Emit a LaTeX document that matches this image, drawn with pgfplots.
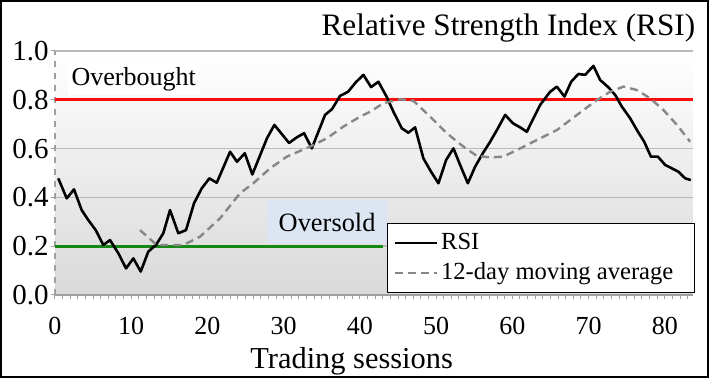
\documentclass[border=0pt]{standalone}
\usepackage{fontspec}
\setmainfont{Liberation Serif}
\usepackage{pgfplots}
\pgfplotsset{compat=1.18}
\definecolor{obox}{RGB}{220,230,243}
\definecolor{obred}{RGB}{255,10,10}
\definecolor{osgreen}{RGB}{20,135,20}
\definecolor{magray}{RGB}{135,135,135}
\begin{document}
\begin{tikzpicture}
\useasboundingbox (-27.5pt,-41.5pt) rectangle (327pt,147.5pt);
\begin{axis}[
  at={(0,0)}, anchor=south west,
  scale only axis, width=319pt, height=122pt,
  xmin=0, xmax=83.7, ymin=0, ymax=1,
  axis x line*=bottom, axis y line*=left,
  x axis line style={gray!75, line width=0.8pt},
  y axis line style={gray!75, dashed, line width=0.6pt},
  xtick={0,10,...,80}, minor xtick={0,1,...,83},
  ytick={0,0.2,0.4,0.6,0.8,1.0},
  tick align=outside, major tick length=2pt, minor tick length=2pt,
  tick style={gray!75, line width=0.5pt},
  ymajorgrids, grid style={gray!55, line width=0.7pt},
  axis background/.style={shade, top color=white, bottom color=gray!30},
  /pgf/number format/assume math mode=true,
  yticklabel style={font=\fontsize{14.5}{14.5}\selectfont, inner xsep=1pt, /pgf/number format/.cd, fixed, fixed zerofill, precision=1},
  xticklabel style={font=\fontsize{13}{13}\selectfont, yshift=-5.5pt},
  xlabel={Trading sessions},
  xlabel style={font=\fontsize{15.2}{16}\selectfont, at={(axis description cs:0.465,0)}, anchor=base, yshift=-37pt},
  title={Relative Strength Index (RSI)},
  title style={font=\fontsize{15.6}{17}\selectfont, at={(axis description cs:1.004,1)}, anchor=base east, inner xsep=0pt, yshift=1.5pt},
  legend style={at={(1,0)}, anchor=south east, xshift=1pt, yshift=0.8pt, draw=black, line width=0.6pt, fill=white,
    font=\fontsize{12.3}{13}\selectfont, inner xsep=3pt, inner ysep=3.5pt, row sep=2pt,
    nodes={inner xsep=1.5pt, inner ysep=1.5pt}},
  legend cell align=left,
  legend image code/.code={\draw[#1] (0pt,0pt) -- (21pt,0pt);},
]
\fill[obox] (axis cs:27.8,0.213) rectangle (axis cs:43.5,0.389);
\node[anchor=base west, font=\fontsize{13.2}{14}\selectfont, inner sep=0pt] at (axis cs:29.3,0.259) {Oversold};
\node[anchor=base west, font=\fontsize{13}{14}\selectfont, fill=white, inner sep=2pt] at (axis cs:1.6,0.857) {Overbought};
\addplot[obred, line width=1.5pt, forget plot] coordinates {(0,0.8) (83.7,0.8)};
\addplot[osgreen, line width=1.5pt, forget plot] coordinates {(0,0.2) (43,0.2)};
\addplot[black, line width=1.3pt, line join=round] coordinates {
(0.43,0.478)(1.54,0.396)(2.49,0.433)(3.50,0.348)(4.37,0.307)(5.34,0.266)(6.34,0.205)(7.22,0.225)(8.31,0.171)(9.32,0.109)(10.28,0.150)(11.25,0.096)(12.24,0.178)(13.25,0.205)(14.21,0.253)(15.09,0.348)(16.18,0.253)(17.19,0.266)(18.24,0.376)(19.25,0.437)(20.25,0.478)(21.22,0.460)(22.97,0.587)(23.88,0.546)(24.90,0.581)(25.89,0.494)(27.82,0.643)(28.78,0.697)(30.71,0.623)(31.72,0.646)(32.68,0.663)(33.69,0.601)(35.43,0.738)(36.35,0.762)(37.40,0.816)(38.45,0.833)(39.50,0.873)(40.46,0.902)(41.47,0.852)(42.43,0.874)(43.5,0.813)(44.40,0.751)(45.50,0.683)(46.36,0.665)(47.24,0.687)(48.33,0.560)(49.34,0.505)(50.30,0.458)(51.31,0.553)(52.27,0.601)(53.24,0.526)(54.16,0.458)(55.12,0.526)(56.13,0.581)(57.09,0.628)(58.10,0.683)(59.06,0.738)(60.07,0.704)(61.02,0.687)(61.90,0.669)(62.77,0.724)(63.65,0.779)(64.96,0.833)(65.84,0.854)(66.84,0.813)(67.72,0.874)(68.67,0.906)(69.55,0.902)(70.64,0.939)(71.52,0.881)(72.61,0.851)(73.49,0.820)(74.37,0.772)(75.46,0.724)(76.34,0.676)(77.30,0.628)(78.18,0.567)(79.09,0.567)(80.05,0.533)(80.93,0.519)(81.80,0.505)(82.68,0.478)(83.42,0.471)
};
\addlegendentry{RSI}
\addplot[magray, line width=1.2pt, dash pattern=on 4pt off 2.5pt] coordinates {
(11.15,0.266)(13.35,0.205)(15.1,0.205)(16.84,0.205)(19.03,0.239)(21.65,0.314)(24.28,0.417)(26.02,0.458)(28.22,0.519)(30.41,0.567)(33.46,0.608)(35.65,0.642)(37.83,0.690)(40.03,0.731)(41.34,0.751)(43.08,0.786)(45.28,0.802)(47.02,0.796)(49.21,0.731)(51.40,0.663)(53.58,0.608)(55.34,0.570)(57.09,0.564)(58.83,0.567)(60.59,0.594)(63.21,0.635)(65.84,0.676)(67.59,0.717)(69.33,0.758)(71.09,0.799)(72.83,0.833)(74.58,0.854)(76.34,0.840)(78.08,0.806)(79.83,0.758)(81.59,0.697)(83.33,0.628)
};
\addlegendentry{12-day moving average\hspace*{6pt}}
\end{axis}
\draw[black, line width=1.2pt] (-26.9pt,-40.9pt) rectangle (326.4pt,146.9pt);
\end{tikzpicture}
\end{document}
